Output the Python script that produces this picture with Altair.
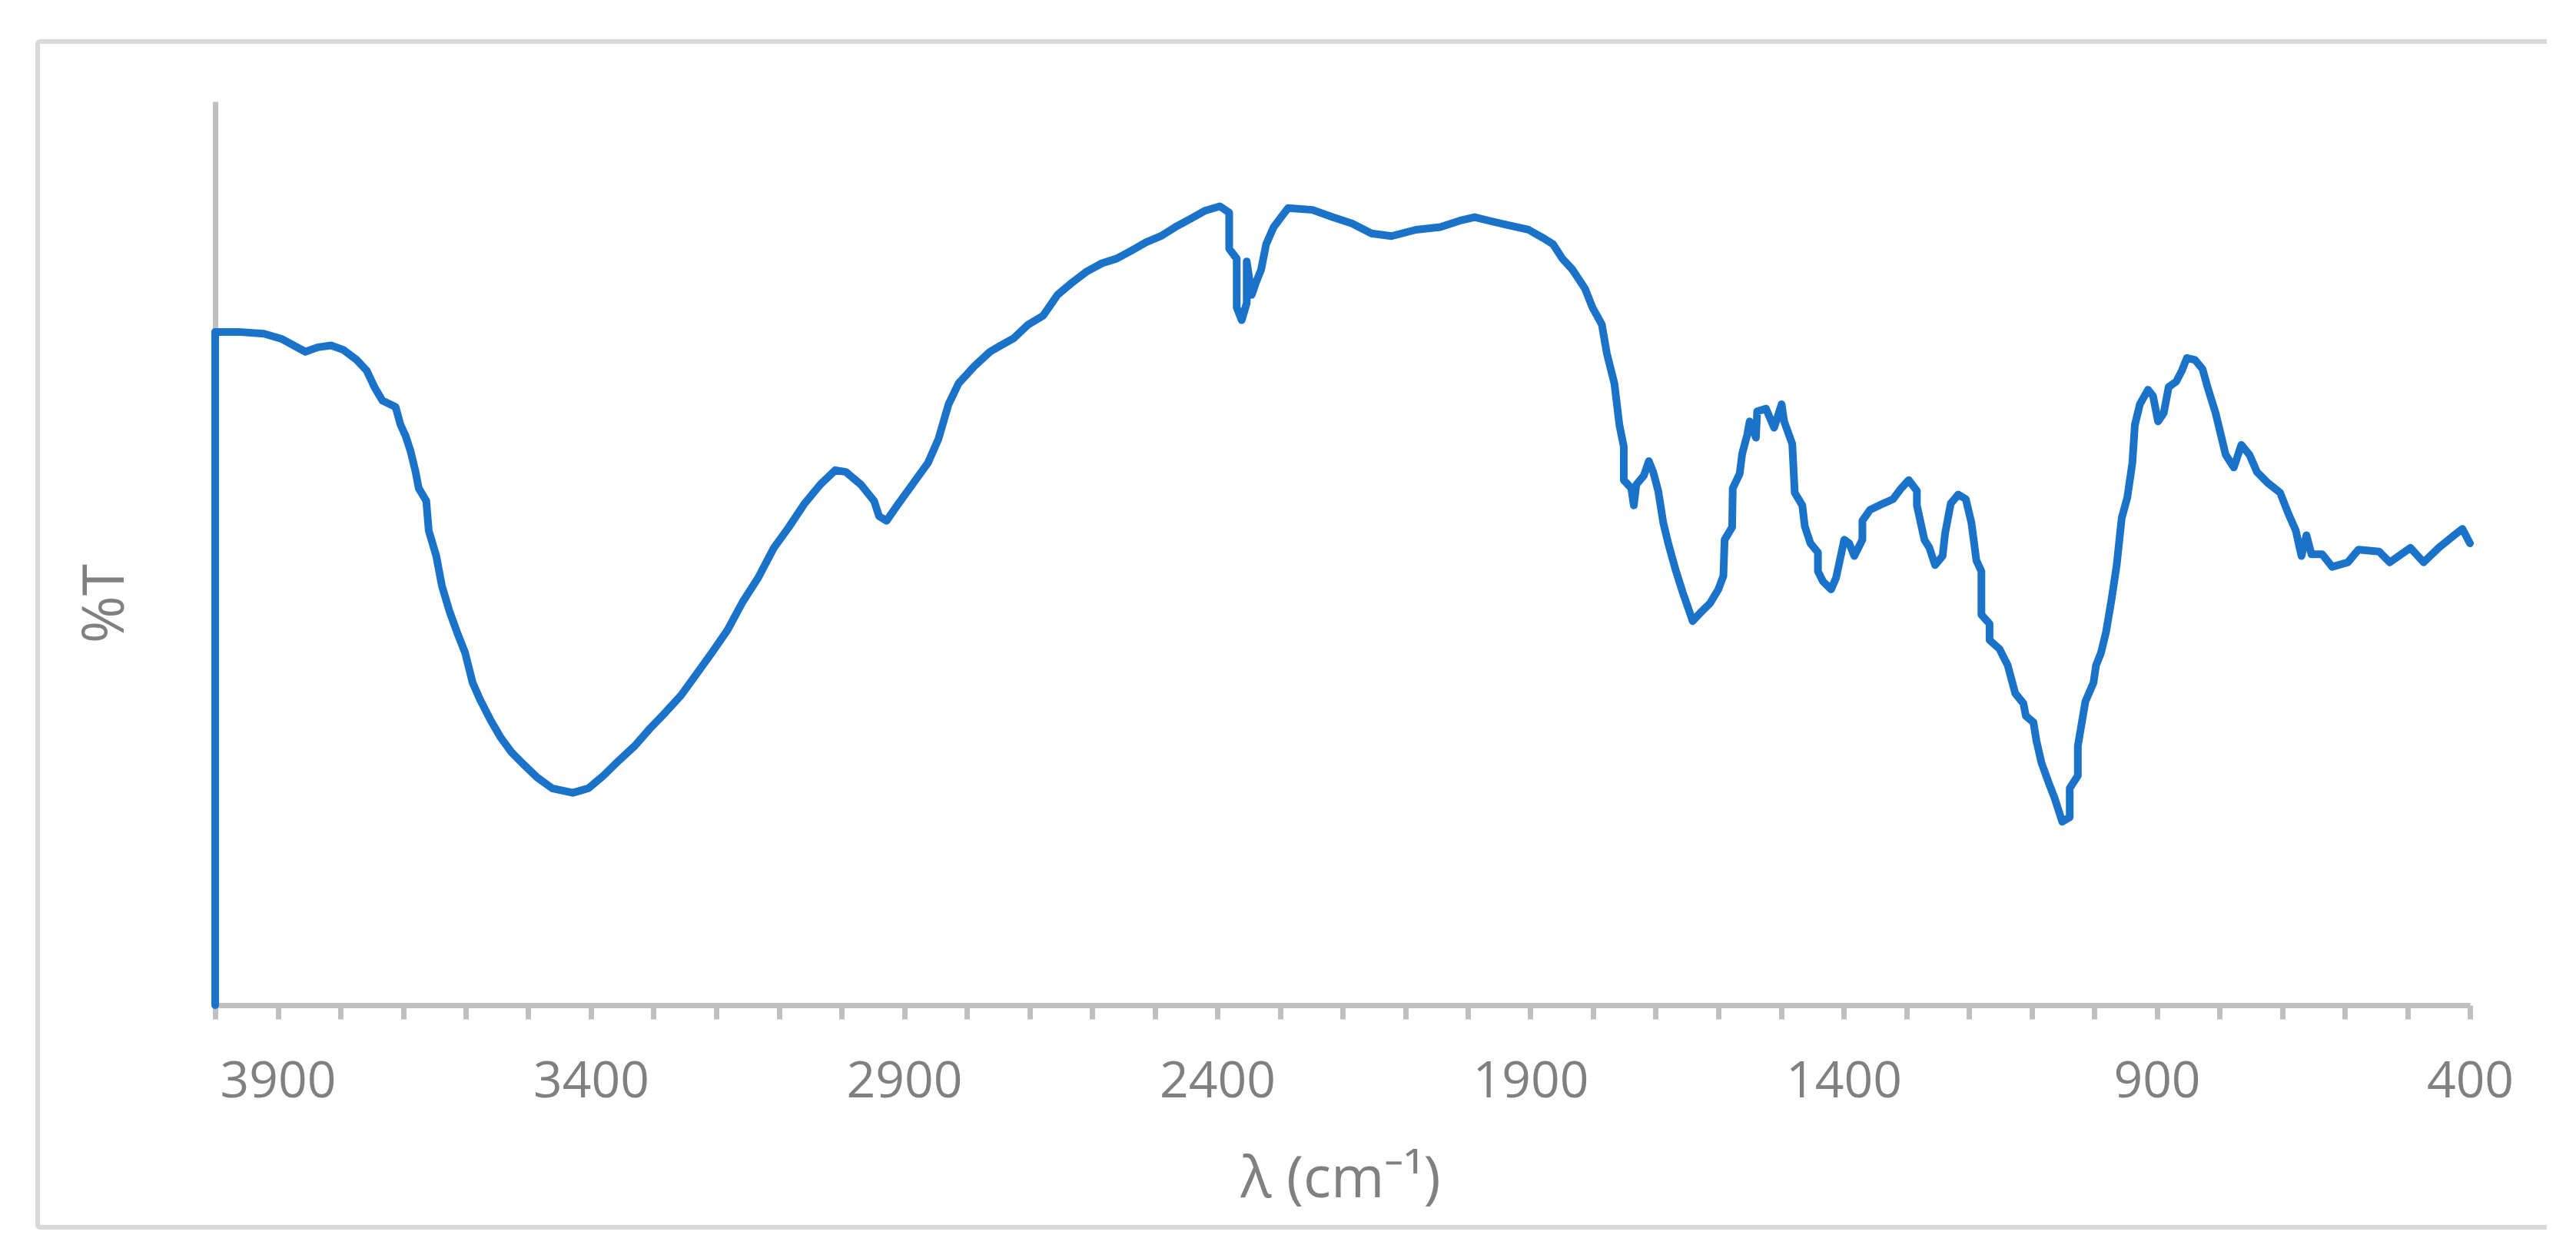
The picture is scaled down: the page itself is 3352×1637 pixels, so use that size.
import altair as alt
import pandas as pd

# IR spectrum (wavenumber in cm^-1, transmittance in %T scale units)
wavenumber = [
    4000, 4000, 3963, 3922, 3893, 3856, 3836, 3815, 3795, 3774, 3758, 3745, 3733, 3712,
    3704, 3696, 3688, 3680, 3675, 3663, 3659, 3647, 3638, 3626, 3614, 3601, 3589, 3577,
    3560, 3544, 3527, 3507, 3486, 3462, 3429, 3404, 3380, 3355, 3330, 3306, 3281, 3256,
    3232, 3207, 3182, 3158, 3133, 3108, 3084, 3059, 3034, 3010, 2993, 2969, 2948, 2940,
    2928, 2911, 2887, 2862, 2845, 2829, 2813, 2788, 2763, 2748, 2725, 2702, 2678, 2655,
    2631, 2608, 2584, 2561, 2537, 2514, 2490, 2467, 2443, 2420, 2396, 2381, 2381, 2369,
    2369, 2361, 2353, 2353, 2345, 2338, 2330, 2322, 2310, 2298, 2287, 2248, 2216, 2185,
    2154, 2122, 2083, 2044, 2013, 1989, 1966, 1935, 1903, 1880, 1864, 1849, 1833, 1813,
    1801, 1786, 1778, 1766, 1758, 1751, 1751, 1739, 1735, 1731, 1719, 1711, 1704, 1696,
    1688, 1680, 1668, 1657, 1649, 1641, 1629, 1613, 1600, 1592, 1590, 1578, 1577, 1566,
    1562, 1554, 1550, 1540, 1538, 1524, 1511, 1499, 1495, 1482, 1478, 1466, 1462, 1453,
    1441, 1441, 1433, 1420, 1412, 1399, 1391, 1383, 1370, 1370, 1358, 1337, 1321, 1308,
    1296, 1283, 1283, 1271, 1263, 1254, 1242, 1238, 1229, 1217, 1205, 1196, 1188, 1180,
    1180, 1167, 1167, 1151, 1138, 1126, 1113, 1109, 1097, 1092, 1084, 1072, 1063, 1051,
    1039, 1039, 1026, 1026, 1014, 1001, 997, 989, 981, 972, 964, 956, 947, 939,
    935, 927, 914, 906, 898, 889, 881, 869, 860, 852, 839, 827, 819, 806,
    798, 790, 777, 765, 752, 740, 723, 703, 690, 678, 669, 661, 653, 636,
    620, 595, 578, 545, 528, 495, 474, 450, 425, 412, 400,
]
transmittance = [
    0.0, 74.5, 74.5, 74.3, 73.7, 72.3, 72.8, 73.0, 72.5, 71.4, 70.2, 68.3, 66.9, 66.2,
    64.2, 63.0, 61.3, 59.0, 57.2, 55.8, 52.5, 49.7, 46.4, 43.6, 41.3, 39.0, 35.7, 33.8,
    31.5, 29.6, 28.0, 26.6, 25.2, 24.0, 23.5, 24.0, 25.4, 27.1, 28.7, 30.6, 32.4, 34.3,
    36.6, 39.0, 41.5, 44.6, 47.3, 50.6, 52.9, 55.5, 57.6, 59.2, 59.0, 57.6, 55.8, 54.1,
    53.6, 55.3, 57.6, 60.0, 62.7, 66.5, 68.8, 70.7, 72.3, 72.9, 73.8, 75.3, 76.3, 78.6,
    80.0, 81.2, 82.1, 82.6, 83.5, 84.4, 85.1, 86.1, 87.0, 87.9, 88.4, 87.7, 83.7, 82.6,
    77.2, 75.8, 77.7, 82.3, 78.6, 80.0, 81.4, 84.2, 86.1, 87.2, 88.2, 88.0, 87.2, 86.5,
    85.4, 85.1, 85.8, 86.1, 86.8, 87.2, 86.8, 86.3, 85.8, 84.9, 84.2, 82.6, 81.4, 79.3,
    77.2, 75.3, 72.1, 68.8, 64.2, 61.8, 58.1, 57.2, 55.3, 57.6, 58.6, 60.2, 59.0, 56.9,
    53.4, 51.1, 48.1, 45.7, 44.1, 42.5, 43.4, 44.5, 46.0, 47.5, 51.5, 52.9, 57.2, 58.8,
    61.0, 63.1, 64.6, 62.8, 65.7, 66.0, 63.9, 66.5, 64.6, 62.1, 56.7, 55.3, 53.0, 51.1,
    50.1, 48.0, 46.9, 46.0, 47.3, 51.5, 51.1, 49.7, 51.5, 53.6, 54.8, 55.5, 56.0, 57.2,
    58.1, 56.9, 55.3, 51.5, 50.6, 48.7, 49.7, 52.2, 55.5, 56.5, 56.0, 53.4, 49.2, 48.0,
    43.2, 42.2, 40.4, 39.4, 37.6, 34.5, 33.4, 32.0, 31.3, 29.2, 26.8, 24.5, 22.9, 20.3,
    20.8, 24.0, 25.4, 28.7, 33.6, 35.7, 37.6, 39.0, 41.3, 45.0, 48.7, 53.9, 56.2, 60.0,
    64.2, 66.5, 68.1, 67.4, 64.6, 65.5, 68.4, 69.0, 70.2, 71.6, 71.4, 70.4, 68.4, 65.5,
    63.2, 60.9, 59.5, 62.0, 60.9, 59.0, 57.8, 56.7, 54.4, 52.5, 49.7, 52.0, 49.9, 49.9,
    48.5, 49.0, 50.4, 50.2, 49.0, 50.6, 49.0, 50.6, 52.0, 52.7, 51.1,
]

tick_values = list(range(4000, 399, -100))
label_values = [3900, 3400, 2900, 2400, 1900, 1400, 900, 400]

df = pd.DataFrame({
    "i": list(range(len(wavenumber))),
    "wavenumber": wavenumber,
    "transmittance": transmittance,
})

AXIS_GRAY = "#BFBFBF"
TEXT_GRAY = "#808080"
FONT = "Open Sans"

label_list = ",".join(str(v) for v in label_values)
label_expr = f"indexof([{label_list}], datum.value) >= 0 ? datum.label : ''"

line = alt.Chart(df).mark_line(
    color="#1A73C9", strokeWidth=10, strokeJoin="round", strokeCap="round"
).encode(
    x=alt.X(
        "wavenumber:Q",
        scale=alt.Scale(domain=[400, 4000], reverse=True, nice=False, zero=False),
        axis=alt.Axis(
            values=tick_values,
            labelExpr=label_expr,
            format="d",
            labelOverlap=False,
            labelFlush=False,
            labelFont=FONT,
            labelFontSize=66,
            labelColor=TEXT_GRAY,
            labelBaseline="alphabetic",
            labelPadding=101,
            tickSize=18,
            tickWidth=7,
            tickColor=AXIS_GRAY,
            domainColor=AXIS_GRAY,
            domainWidth=7,
            grid=False,
            title="λ (cm⁻¹)",
            titleFont=FONT,
            titleFontSize=75,
            titleFontWeight="normal",
            titleColor=TEXT_GRAY,
            titleX=1464,
            titleY=249,
            titleAlign="center",
            titleBaseline="alphabetic",
        ),
    ),
    y=alt.Y(
        "transmittance:Q",
        scale=alt.Scale(domain=[0, 100], nice=False, zero=True),
        axis=alt.Axis(
            labels=False,
            ticks=False,
            grid=False,
            domainColor=AXIS_GRAY,
            domainWidth=7,
            title="%T",
            titleFont=FONT,
            titleFontSize=75,
            titleFontWeight="normal",
            titleColor=TEXT_GRAY,
            titleAngle=270,
            titleX=-143,
            titleY=653,
            titleAlign="center",
            titleBaseline="middle",
        ),
    ),
    order=alt.Order("i:Q"),
)

border = alt.Chart(alt.Data(values=[{"frame": 1}])).mark_rect(
    fill=None, stroke="#D9D9D9", strokeWidth=6, cornerRadius=3
).encode(
    x=alt.value(-231), x2=alt.value(3041),
    y=alt.value(-78), y2=alt.value(1465),
)

chart = alt.layer(border, line).properties(
    width=2934,
    height=1176,
    autosize=alt.AutoSizeParams(type="none"),
    padding={"left": 272, "top": 124, "right": 100, "bottom": 300},
    background="white",
).configure_view(stroke=None)

chart.save("out.html", embed_options={"renderer": "svg", "actions": False})
